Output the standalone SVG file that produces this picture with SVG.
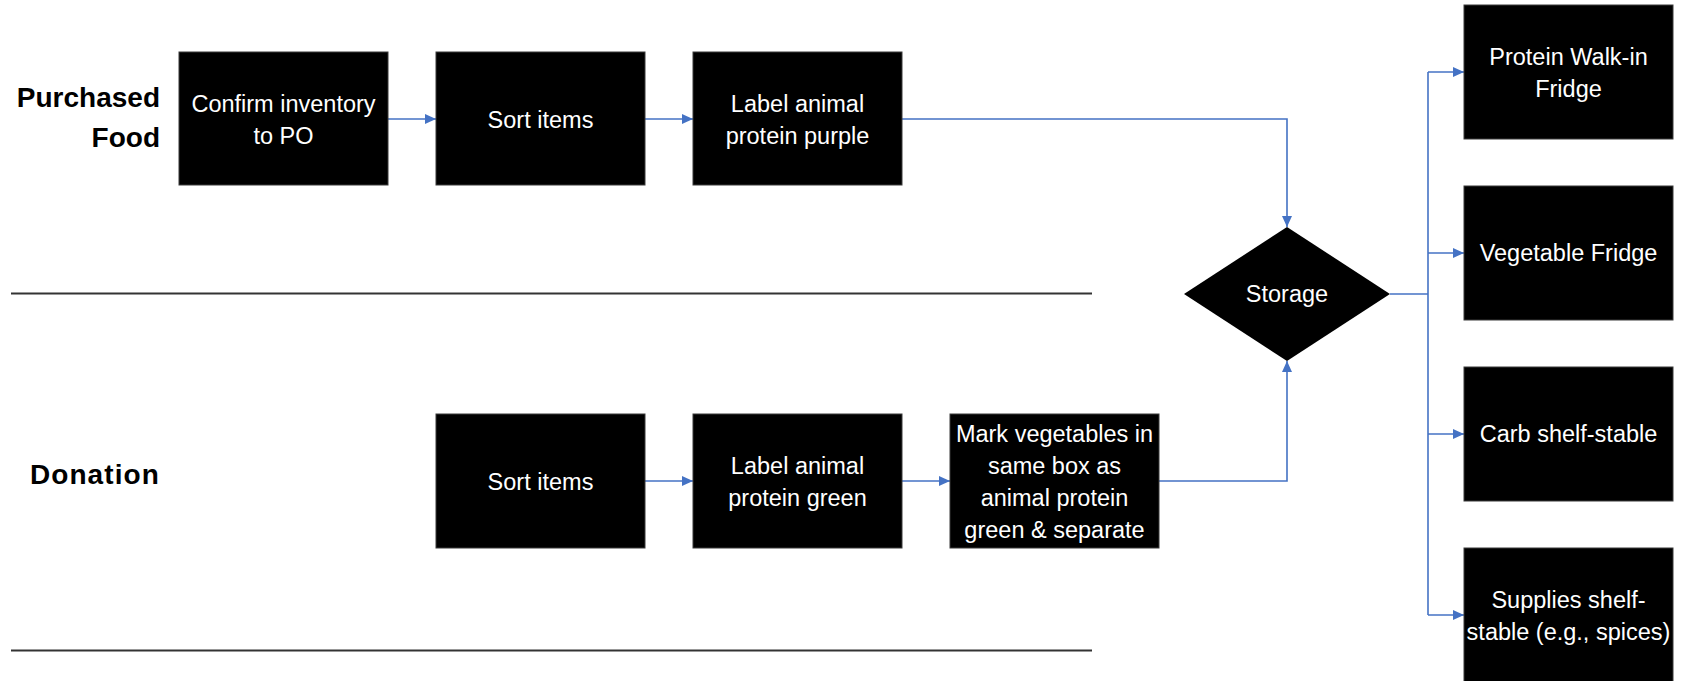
<svg xmlns="http://www.w3.org/2000/svg" width="1682" height="681" viewBox="0 0 1682 681">
<style>
.box{fill:#000;stroke:#3a3a3a;stroke-width:1}
.bt{font-family:"Liberation Sans",Arial,sans-serif;font-size:23.5px;fill:#fff;text-anchor:middle}
.lane{font-family:"Liberation Sans",Arial,sans-serif;font-size:28px;font-weight:bold;fill:#000;text-anchor:end}
.con{fill:none;stroke:#4472C4;stroke-width:1.6}
.sep{stroke:#333;stroke-width:2.2}
</style>
<defs>
<marker id="ah" markerUnits="userSpaceOnUse" markerWidth="11" markerHeight="10" refX="11" refY="5" orient="auto">
<path d="M0,0 L11,5 L0,10 z" fill="#4472C4"/>
</marker>
</defs>
<rect width="1682" height="681" fill="#fff"/>
<g id="lanes">
<line class="sep" x1="11" y1="293.5" x2="1092" y2="293.5"/>
<line class="sep" x1="11" y1="650.5" x2="1092" y2="650.5"/>
<text class="lane" x="160" y="107">Purchased</text>
<text class="lane" x="160" y="147">Food</text>
<text class="lane" x="160" y="484" style="letter-spacing:1.1px">Donation</text>
</g>
<g id="connectors">
<path class="con" d="M388,119 H436" marker-end="url(#ah)"/>
<path class="con" d="M645,119 H693" marker-end="url(#ah)"/>
<path class="con" d="M902,119 H1287 V227" marker-end="url(#ah)"/>
<path class="con" d="M645,481 H693" marker-end="url(#ah)"/>
<path class="con" d="M902,481 H950" marker-end="url(#ah)"/>
<path class="con" d="M1159,481 H1287 V361" marker-end="url(#ah)"/>
<path class="con" d="M1390,294 H1428"/>
<path class="con" d="M1428,72 V615"/>
<path class="con" d="M1428,72 H1464" marker-end="url(#ah)"/>
<path class="con" d="M1428,253 H1464" marker-end="url(#ah)"/>
<path class="con" d="M1428,434 H1464" marker-end="url(#ah)"/>
<path class="con" d="M1428,615 H1464" marker-end="url(#ah)"/>
</g>
<g id="confirm">
<rect class="box" x="179" y="52" width="209" height="133"/>
<text class="bt" x="283.5" y="112">Confirm inventory</text>
<text class="bt" x="283.5" y="144">to PO</text>
</g>
<g id="sort-purchased">
<rect class="box" x="436" y="52" width="209" height="133"/>
<text class="bt" x="540.5" y="128">Sort items</text>
</g>
<g id="label-purple">
<rect class="box" x="693" y="52" width="209" height="133"/>
<text class="bt" x="797.5" y="112">Label animal</text>
<text class="bt" x="797.5" y="144">protein purple</text>
</g>
<g id="sort-donation">
<rect class="box" x="436" y="414" width="209" height="134"/>
<text class="bt" x="540.5" y="490">Sort items</text>
</g>
<g id="label-green">
<rect class="box" x="693" y="414" width="209" height="134"/>
<text class="bt" x="797.5" y="474">Label animal</text>
<text class="bt" x="797.5" y="506">protein green</text>
</g>
<g id="mark-veg">
<rect class="box" x="950" y="414" width="209" height="134"/>
<text class="bt" x="1054.5" y="442">Mark vegetables in</text>
<text class="bt" x="1054.5" y="474">same box as</text>
<text class="bt" x="1054.5" y="506">animal protein</text>
<text class="bt" x="1054.5" y="538">green &amp; separate</text>
</g>
<g id="storage">
<polygon points="1287,227 1390,294 1287,361 1184,294" fill="#000"/>
<text class="bt" x="1287" y="302">Storage</text>
</g>
<g id="protein-fridge">
<rect class="box" x="1464" y="5" width="209" height="134"/>
<text class="bt" x="1568.5" y="65">Protein Walk-in</text>
<text class="bt" x="1568.5" y="97">Fridge</text>
</g>
<g id="vegetable-fridge">
<rect class="box" x="1464" y="186" width="209" height="134"/>
<text class="bt" x="1568.5" y="261">Vegetable Fridge</text>
</g>
<g id="carb-shelf">
<rect class="box" x="1464" y="367" width="209" height="134"/>
<text class="bt" x="1568.5" y="442">Carb shelf-stable</text>
</g>
<g id="supplies-shelf">
<rect class="box" x="1464" y="548" width="209" height="140"/>
<text class="bt" x="1568.5" y="608">Supplies shelf-</text>
<text class="bt" x="1568.5" y="640">stable (e.g., spices)</text>
</g>
</svg>
